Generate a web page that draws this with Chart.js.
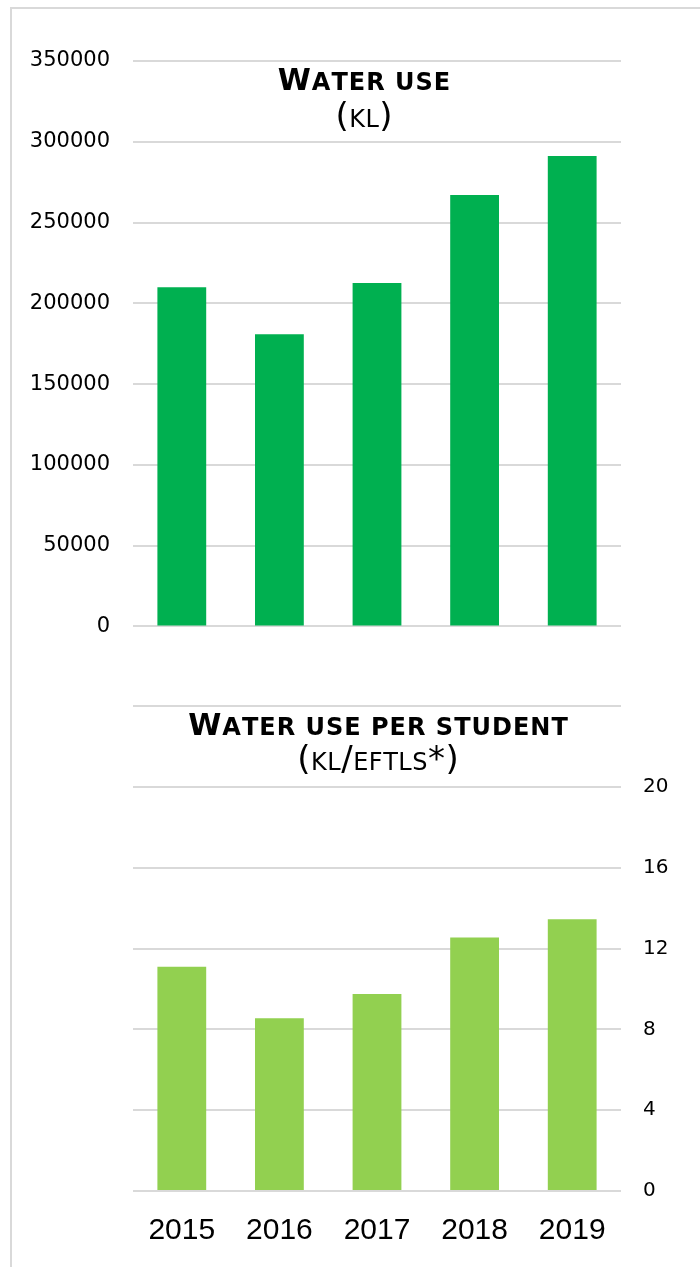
<!DOCTYPE html>
<html>
<head>
<meta charset="utf-8">
<script src="https://cdn.jsdelivr.net/npm/chart.js@4/dist/chart.umd.min.js"></script>
<style>
  html, body { margin: 0; padding: 0; background: #fff; }
  body { width: 700px; height: 1267px; position: relative; overflow: hidden; }
  #frame { position: absolute; left: 10px; top: 7px; width: 720px; height: 1300px;
           border-left: 2px solid #d9d9d9; border-top: 2px solid #d9d9d9; }
  .box { position: absolute; left: 0; width: 700px; }
  #box1 { top: 0; height: 662px; }
  #box2 { top: 650px; height: 617px; }
</style>
</head>
<body>
<div id="frame"></div>
<div class="box" id="box1"><canvas id="useChart"></canvas></div>
<div class="box" id="box2"><canvas id="perStudentChart"></canvas></div>

<script>
// data
const years = ['2015', '2016', '2017', '2018', '2019'];
const waterUse = [210000, 180800, 212500, 267000, 291200];
const waterPerStudent = [11.1, 8.55, 9.75, 12.55, 13.45];

const useTitle = ['Water use', '(kl)'];
const perStudentTitle = ['Water use per student', '(kl/eftls*)'];

const GRID = '#d9d9d9';
const FONT = '"DejaVu Sans", Verdana, sans-serif';

/**
 * Draw text in small caps: lower case letters become smaller capitals
 */
function drawSmallCaps(ctx, text, cx, y, big, small, weight, spacing) {
  const parts = [...text].map(ch => {
    const isSmall = ch !== ch.toUpperCase() || ch === ' ';
    const size = isSmall ? small : big;
    return { ch: ch.toUpperCase(), font: `${weight} ${size}px ${FONT}` };
  });
  let total = 0;
  parts.forEach(p => {
    ctx.font = p.font;
    p.w = ctx.measureText(p.ch).width;
    total += p.w;
  });
  total += spacing * (parts.length - 1);
  let x = cx - total / 2;
  ctx.textBaseline = 'alphabetic';
  ctx.textAlign = 'left';
  parts.forEach(p => {
    ctx.font = p.font;
    ctx.fillText(p.ch, x, y);
    x += p.w + spacing;
  });
}

// title drawn over the plot, as in the original
function titlePlugin(lines, cx, y1, y2) {
  return {
    id: 'overlayTitle',
    afterDraw(chart) {
      const ctx = chart.ctx;
      ctx.save();
      ctx.fillStyle = '#000';
      drawSmallCaps(ctx, lines[0], cx, y1, 30, 24, 'bold', 1);
      drawSmallCaps(ctx, lines[1], cx, y2, 34, 24, 'normal', 0.5);
      ctx.restore();
    }
  };
}

new Chart(document.getElementById('useChart'), {
  type: 'bar',
  data: {
    labels: years,
    datasets: [{
      data: waterUse,
      backgroundColor: '#00b050',
      barPercentage: 0.5,
      categoryPercentage: 1
    }]
  },
  options: {
    responsive: true,
    maintainAspectRatio: false,
    animation: false,
    layout: { padding: { left: 0, right: 79, top: 61, bottom: 12 } },
    plugins: { legend: { display: false }, tooltip: { enabled: false } },
    scales: {
      x: { display: false },
      y: {
        min: 0,
        max: 350000,
        afterFit: (scale) => { scale.width = 133; },
        border: { display: false },
        grid: { color: GRID, lineWidth: 2, drawTicks: false },
        ticks: {
          stepSize: 50000,
          padding: 23,
          color: '#000',
          font: { family: FONT, size: 21 },
          callback: (value) => String(value)
        }
      }
    }
  },
  plugins: [titlePlugin(useTitle, 364, 90, 127)]
});

new Chart(document.getElementById('perStudentChart'), {
  type: 'bar',
  data: {
    labels: years,
    datasets: [{
      data: waterPerStudent,
      backgroundColor: '#92d050',
      barPercentage: 0.5,
      categoryPercentage: 1
    }]
  },
  options: {
    responsive: true,
    maintainAspectRatio: false,
    animation: false,
    layout: { padding: { left: 133, right: 0, top: 56, bottom: 0 } },
    plugins: { legend: { display: false }, tooltip: { enabled: false } },
    scales: {
      x: {
        afterFit: (scale) => { scale.height = 76; },
        border: { display: false },
        grid: { display: false },
        ticks: { padding: 14, color: '#000', font: { family: '"Liberation Sans", Arial, sans-serif', size: 30 } }
      },
      y: {
        position: 'right',
        min: 0,
        max: 24,
        afterFit: (scale) => { scale.width = 79; },
        border: { display: false },
        grid: { color: GRID, lineWidth: 2, drawTicks: false },
        ticks: {
          stepSize: 4,
          padding: 22,
          color: '#000',
          font: { family: FONT, size: 20 },
          callback: (value) => (value === 24 ? '' : value)
        }
      }
    }
  },
  plugins: [titlePlugin(perStudentTitle, 378, 85, 120)]
});
</script>
</body>
</html>
